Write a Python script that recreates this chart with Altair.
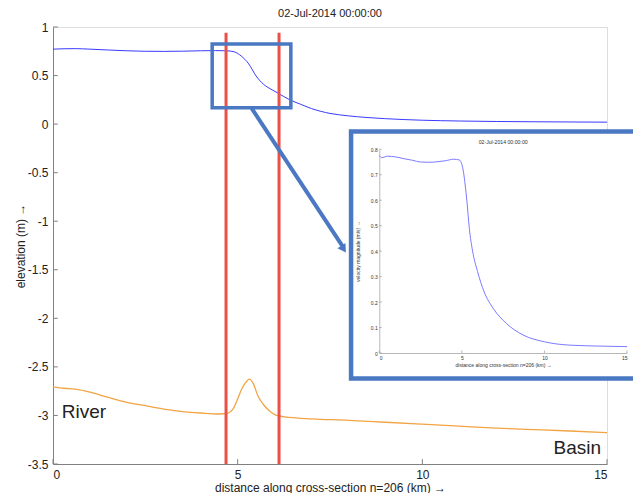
import altair as alt
import pandas as pd

FONT = "Liberation Sans"
BOX_BLUE = "#4a78c2"

chart_title = "02-Jul-2014 00:00:00"
x_title = "distance along cross-section n=206 (km) →"
y_title = "elevation (m) →"
inset_title = "02-Jul-2014 00:00:00"
inset_x_title = "distance along cross-section n=206 (km) →"
inset_y_title = "velocity magnitude (m/s) →"

# water level (blue)
wl_x = [0, 0.3, 0.6, 1, 1.5, 2, 2.5, 3, 3.5, 4, 4.4, 4.7, 4.9, 5.1, 5.3, 5.5, 5.7, 5.9,
        6.1, 6.4, 6.7, 7, 7.5, 8, 8.5, 9, 9.5, 10, 11, 12, 13, 14, 15]
wl_y = [0.772, 0.776, 0.777, 0.772, 0.763, 0.755, 0.75, 0.749, 0.751, 0.755, 0.757, 0.755,
        0.745, 0.70, 0.62, 0.495, 0.41, 0.36, 0.317, 0.252, 0.205, 0.16, 0.11, 0.085, 0.068,
        0.056, 0.047, 0.04, 0.032, 0.027, 0.024, 0.022, 0.02]

# bed level (orange)
bed_x = [0, 0.3, 0.6, 1, 1.5, 2, 2.5, 3, 3.5, 4, 4.5, 4.7, 4.88, 5.0, 5.1, 5.2, 5.32, 5.42,
         5.55, 5.7, 5.85, 6.05, 6.4, 7, 8, 9, 10, 11, 12, 13, 14, 15]
bed_y = [-2.705, -2.72, -2.73, -2.76, -2.815, -2.865, -2.9, -2.935, -2.96, -2.975, -2.985,
         -2.98, -2.93, -2.83, -2.735, -2.67, -2.625, -2.67, -2.8, -2.89, -2.95, -3.0, -3.02,
         -3.035, -3.05, -3.07, -3.09, -3.11, -3.13, -3.145, -3.16, -3.178]

# inset: velocity magnitude
vel_x = [0, 0.15, 0.5, 1, 1.5, 2, 2.5, 3, 3.5, 4, 4.5, 4.85, 5.0, 5.1, 5.2, 5.3, 5.45, 5.65,
         5.95, 6.35, 6.9, 7.7, 8.7, 10, 11.5, 13.5, 15]
vel_y = [0.776, 0.767, 0.773, 0.77, 0.763, 0.757, 0.75, 0.749, 0.751, 0.755, 0.761, 0.758,
         0.74, 0.71, 0.66, 0.6, 0.49, 0.4, 0.32, 0.24, 0.175, 0.116, 0.071, 0.044, 0.031,
         0.027, 0.025]

# annotations (main data coordinates)
red_x = [4.685, 6.12]
red_y0 = [-3.5, -3.5]
red_y1 = [0.94, 0.94]
box_x = [4.31, 6.44]
box_y = [0.169, 0.825]
arrow_x = [5.38, 7.86]
arrow_y = [0.163, -1.27]
head_x = [7.85]
head_y = [-1.275]
frame_x = [8.07, 16.8]
frame_y = [-2.62, -0.076]
left_label = ["River"]
left_label_x = [0.24]
left_label_y = [-3.027]
right_label = ["Basin"]
right_label_x = [14.84]
right_label_y = [-3.397]

x_ticks = [0, 5, 10, 15]
y_ticks = [1, 0.5, 0, -0.5, -1, -1.5, -2, -2.5, -3, -3.5]
inset_x_ticks = [0, 5, 10, 15]
inset_y_ticks = [0, 0.1, 0.2, 0.3, 0.4, 0.5, 0.6, 0.7, 0.8]
inset_title_x = [7.5]
inset_title_y = [0.827]

W, H = 554, 437

xs = alt.Scale(domain=[0, 15], nice=False, zero=False)
ys = alt.Scale(domain=[-3.5, 1], nice=False, zero=False)
ixs = alt.Scale(domain=[0, 15], nice=False, zero=False, range=[326.3, 574])
iys = alt.Scale(domain=[0, 0.8], nice=False, zero=False, range=[326, 122.3])

lab = "'' + datum.value"
xaxis = alt.Axis(title=x_title, values=x_ticks, ticks=False, grid=False, domainColor="#808080",
                 labelFontSize=12, labelColor="#222", labelPadding=5, labelExpr=lab,
                 titleFontSize=12, titleFontWeight="normal", titleColor="#222", titlePadding=2,
                 labelFont=FONT, titleFont=FONT)
yaxis = alt.Axis(title=y_title, values=y_ticks, ticks=False, grid=False, domainColor="#808080",
                 labelFontSize=12, labelColor="#222", labelPadding=5, labelExpr=lab,
                 titleFontSize=12, titleFontWeight="normal", titleColor="#222", titlePadding=0,
                 labelFont=FONT, titleFont=FONT)
ixaxis = alt.Axis(title=inset_x_title, orient="bottom", offset=-111, values=inset_x_ticks,
                  ticks=False, grid=False, domainColor="#999", domainWidth=0.7,
                  labelFontSize=5, labelColor="#333", labelPadding=2, labelExpr=lab,
                  titleFontSize=5, titleFontWeight="normal", titleColor="#333", titlePadding=2,
                  labelFont=FONT, titleFont=FONT, zindex=1)
iyaxis = alt.Axis(title=inset_y_title, orient="left", offset=-326.3, values=inset_y_ticks,
                  ticks=False, grid=False, domainColor="#999", domainWidth=0.7,
                  labelFontSize=5, labelColor="#333", labelPadding=2, labelExpr=lab,
                  titleFontSize=5, titleFontWeight="normal", titleColor="#333", titlePadding=10,
                  labelFont=FONT, titleFont=FONT, zindex=1)


def X(f):
    return alt.X(f, type="quantitative", scale=xs, axis=xaxis)


def Y(f):
    return alt.Y(f, type="quantitative", scale=ys, axis=yaxis)


def IX(f):
    return alt.X(f, type="quantitative", scale=ixs, axis=ixaxis)


def IY(f):
    return alt.Y(f, type="quantitative", scale=iys, axis=iyaxis)


wl = alt.Chart(pd.DataFrame({"x": wl_x, "y": wl_y})).mark_line(
    color="#3a3aff", strokeWidth=1, interpolate="monotone").encode(x=X("x"), y=Y("y"))
bed = alt.Chart(pd.DataFrame({"x": bed_x, "y": bed_y})).mark_line(
    color="#f2a444", strokeWidth=1.3, interpolate="monotone").encode(x=X("x"), y=Y("y"))
reds = alt.Chart(pd.DataFrame({"x": red_x, "y": red_y0, "y2": red_y1})).mark_rule(
    color="#eb4f46", strokeWidth=3).encode(x=X("x"), y=Y("y"), y2="y2")
box = alt.Chart(pd.DataFrame({"x": [box_x[0]], "x2": [box_x[1]], "y": [box_y[0]], "y2": [box_y[1]]})).mark_rect(
    fillOpacity=0, stroke=BOX_BLUE, strokeWidth=3.5).encode(x=X("x"), x2="x2", y=Y("y"), y2="y2")
arrow = alt.Chart(pd.DataFrame({"x": arrow_x, "y": arrow_y})).mark_line(
    color=BOX_BLUE, strokeWidth=4).encode(x=X("x"), y=Y("y"))
head = alt.Chart(pd.DataFrame({"x": head_x, "y": head_y})).mark_point(
    shape="triangle", angle=147, size=90, filled=True, color=BOX_BLUE, opacity=1).encode(x=X("x"), y=Y("y"))
frame = alt.Chart(pd.DataFrame({"x": [frame_x[0]], "x2": [frame_x[1]], "y": [frame_y[0]], "y2": [frame_y[1]]})).mark_rect(
    fill="white", stroke=BOX_BLUE, strokeWidth=4.5).encode(x=X("x"), x2="x2", y=Y("y"), y2="y2")
t_left = alt.Chart(pd.DataFrame({"x": left_label_x, "y": left_label_y, "t": left_label})).mark_text(
    font=FONT, fontSize=19, color="#222", align="left", baseline="alphabetic").encode(x=X("x"), y=Y("y"), text="t:N")
t_right = alt.Chart(pd.DataFrame({"x": right_label_x, "y": right_label_y, "t": right_label})).mark_text(
    font=FONT, fontSize=19, color="#222", align="right", baseline="alphabetic").encode(x=X("x"), y=Y("y"), text="t:N")
xt = alt.Chart(pd.DataFrame({"x": x_ticks})).mark_rule(color="#808080", strokeWidth=1).encode(
    x=X("x"), y=alt.datum(-3.5, scale=ys, axis=yaxis), y2=alt.datum(-3.45))
yt = alt.Chart(pd.DataFrame({"y": y_ticks})).mark_rule(color="#808080", strokeWidth=1).encode(
    y=Y("y"), x=alt.datum(0, scale=xs, axis=xaxis), x2=alt.datum(0.13))

main = alt.layer(wl, bed, reds, box, arrow, head, frame, t_left, t_right, xt, yt)

vel = alt.Chart(pd.DataFrame({"x": vel_x, "y": vel_y})).mark_line(
    color="#7b7bff", strokeWidth=1, interpolate="monotone").encode(x=IX("x"), y=IY("y"))
ititle = alt.Chart(pd.DataFrame({"x": inset_title_x, "y": inset_title_y, "t": [inset_title]})).mark_text(
    font=FONT, fontSize=5.2, color="#333", align="center", baseline="middle").encode(x=IX("x"), y=IY("y"), text="t:N")
ixt = alt.Chart(pd.DataFrame({"x": inset_x_ticks})).mark_rule(color="#999", strokeWidth=0.7).encode(
    x=IX("x"), y=alt.datum(0, scale=iys, axis=iyaxis), y2=alt.datum(0.01))
iyt = alt.Chart(pd.DataFrame({"y": inset_y_ticks})).mark_rule(color="#999", strokeWidth=0.7).encode(
    y=IY("y"), x=alt.datum(0, scale=ixs, axis=ixaxis), x2=alt.datum(0.15))

inset = alt.layer(vel, ititle, ixt, iyt)

chart = alt.layer(main, inset).resolve_scale(x="independent", y="independent").properties(
    width=W, height=H,
    autosize=alt.AutoSizeParams(type="none"),
    padding={"left": 45, "top": 19, "right": 26, "bottom": 29},
    title=alt.Title(chart_title, font=FONT, fontSize=11, fontWeight="normal", color="#222",
                    anchor="middle", offset=2),
).configure_view(stroke=None).configure(font=FONT)

chart.save("out.html", embed_options={"renderer": "svg", "actions": False})
